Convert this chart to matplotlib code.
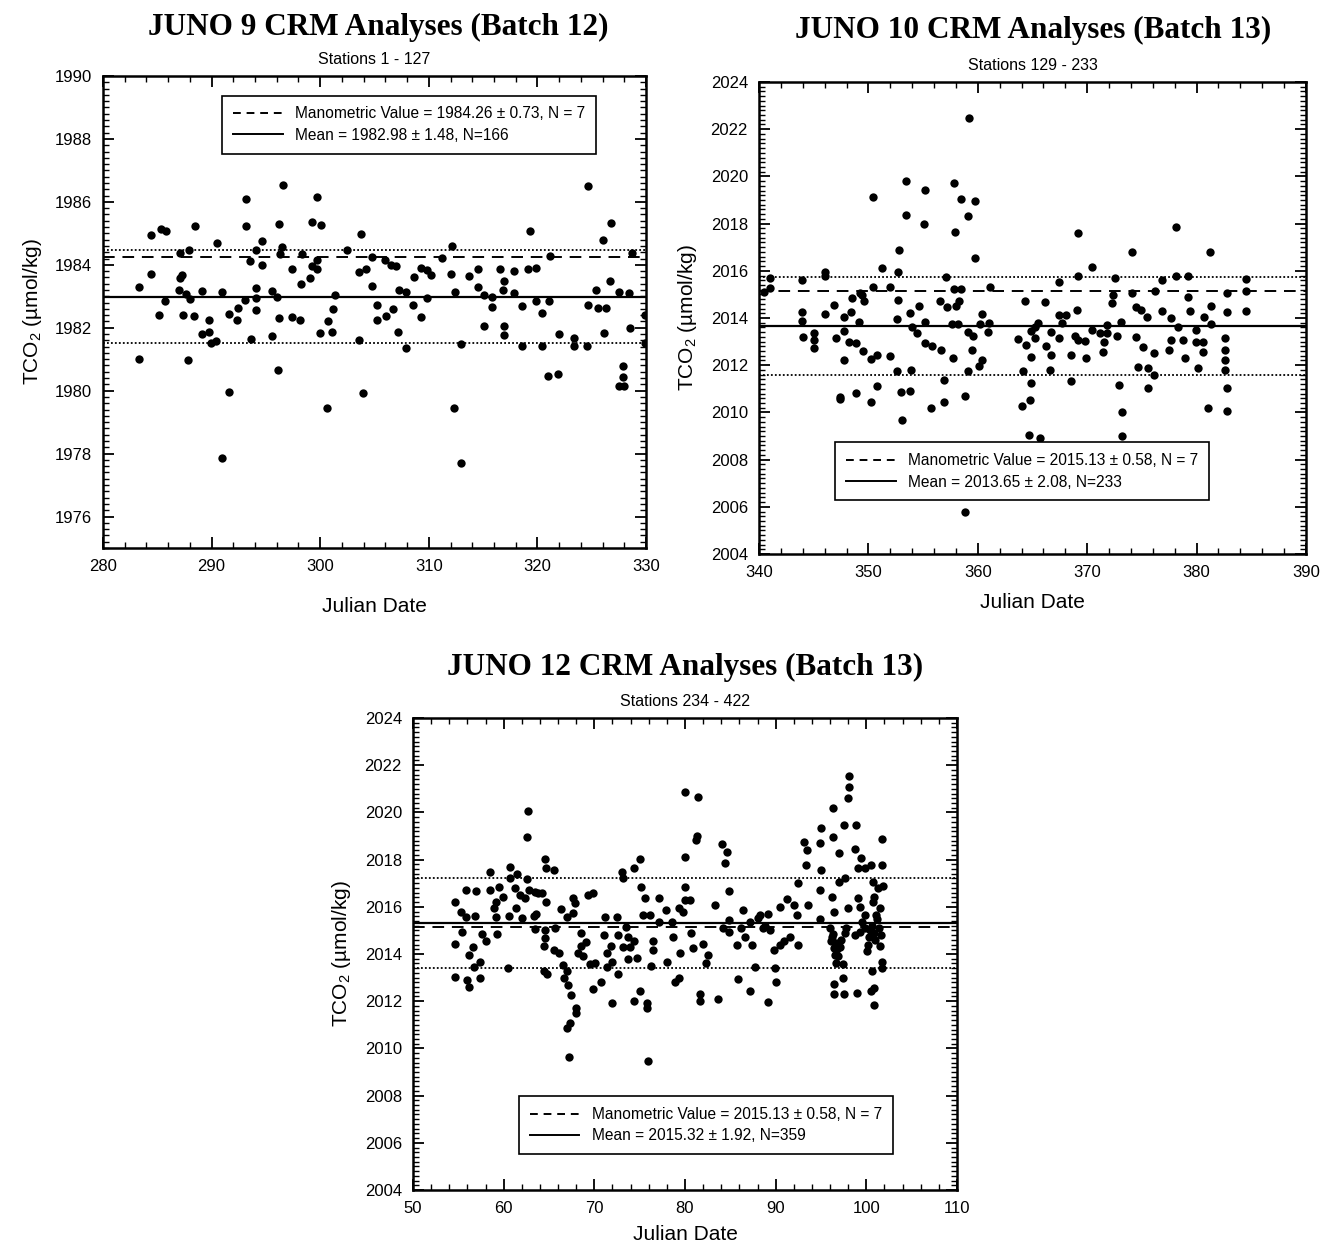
import matplotlib
matplotlib.use("Agg")
import matplotlib.pyplot as plt
from matplotlib.ticker import MultipleLocator
from matplotlib.lines import Line2D

plt.rcParams['font.family'] = ['Liberation Sans', 'DejaVu Sans']
plt.rcParams['mathtext.fontset'] = 'custom'
plt.rcParams['mathtext.rm'] = 'Liberation Sans'
plt.rcParams['mathtext.it'] = 'Liberation Sans:italic'

# ---- JUNO 9 (Batch 12), stations 1 - 127 ----
jd_j9 = [283.3, 284.4, 284.4, 285.3, 285.8, 285.7, 285.2, 283.3, 287.1, 287.1,
         287.3, 287.0, 287.6, 288.0, 287.4, 288.4, 287.9, 288.5, 287.8, 289.1,
         289.8, 289.8, 289.1, 289.9, 290.4, 290.5, 291.0, 291.6, 292.3, 292.4,
         291.0, 291.6, 293.2, 293.2, 293.1, 293.5, 293.6, 294.1, 294.6, 294.6,
         294.1, 294.1, 294.1, 295.6, 296.0, 295.6, 296.1, 296.2, 296.2, 296.6,
         296.5, 296.3, 297.4, 297.4, 298.1, 298.2, 298.3, 299.1, 299.2, 299.7,
         300.1, 299.2, 299.7, 299.7, 300.0, 300.6, 301.1, 300.7, 301.2, 301.4,
         302.5, 303.8, 303.6, 304.2, 303.6, 303.9, 304.8, 304.8, 305.2, 305.2,
         306.0, 306.5, 307.0, 306.1, 306.7, 307.3, 307.9, 307.2, 307.9, 308.5,
         308.6, 309.3, 309.8, 310.2, 309.3, 309.8, 311.2, 312.1, 312.0, 312.4,
         313.0, 312.3, 313.0, 313.7, 314.5, 314.5, 315.1, 315.8, 315.1, 315.8,
         316.6, 316.9, 316.8, 317.8, 316.9, 316.9, 317.8, 318.6, 318.6, 319.1,
         319.9, 319.3, 319.9, 320.4, 320.4, 321.1, 321.2, 321.0, 321.9, 322.0,
         323.4, 323.4, 324.6, 324.7, 324.7, 325.4, 325.6, 326.7, 326.3, 326.8,
         327.5, 328.4, 328.7, 328.5, 327.9, 327.9, 327.5, 328.0, 329.9, 329.9,
         326.0, 326.1]
tco2_j9 = [1983.31, 1983.70, 1984.96, 1985.13, 1985.09, 1982.86, 1982.41, 1981.00, 1984.39, 1983.58,
           1983.68, 1983.21, 1983.08, 1982.91, 1982.41, 1982.38, 1984.48, 1985.22, 1980.96, 1983.17,
           1982.23, 1981.86, 1981.80, 1981.53, 1981.58, 1984.69, 1983.13, 1982.44, 1982.25, 1982.64,
           1977.87, 1979.97, 1986.09, 1985.22, 1982.89, 1984.11, 1981.64, 1984.48, 1984.77, 1983.98,
           1983.26, 1982.94, 1982.57, 1983.17, 1982.99, 1981.75, 1980.65, 1982.31, 1985.29, 1986.54,
           1984.58, 1984.34, 1983.86, 1982.35, 1982.25, 1983.39, 1984.34, 1983.57, 1985.36, 1986.17,
           1985.26, 1983.97, 1983.86, 1984.14, 1981.83, 1979.44, 1981.85, 1982.20, 1982.59, 1983.05,
           1984.48, 1984.97, 1983.76, 1983.88, 1981.60, 1979.91, 1983.33, 1984.26, 1982.73, 1982.25,
           1984.16, 1984.00, 1983.95, 1982.36, 1982.59, 1983.21, 1983.12, 1981.88, 1981.35, 1982.73,
           1983.61, 1983.91, 1983.84, 1983.68, 1982.34, 1982.94, 1984.21, 1984.60, 1983.71, 1983.12,
           1981.49, 1979.45, 1977.70, 1983.63, 1983.88, 1983.29, 1983.05, 1982.66, 1982.06, 1982.99,
           1983.86, 1983.50, 1983.21, 1983.79, 1982.04, 1981.78, 1983.10, 1982.68, 1981.41, 1983.86,
           1983.89, 1985.06, 1982.84, 1982.47, 1981.41, 1982.84, 1984.29, 1980.48, 1980.54, 1981.80,
           1981.66, 1981.41, 1981.43, 1986.51, 1982.73, 1983.19, 1982.63, 1983.50, 1982.63, 1985.34,
           1983.13, 1983.10, 1984.39, 1981.99, 1980.77, 1980.45, 1980.16, 1980.16, 1982.40, 1981.50,
           1984.80, 1981.83]

# ---- JUNO 10 (Batch 13), stations 129 - 233 ----
jd_j10 = [341.0, 341.0, 340.5, 343.9, 343.9, 343.9, 344.0, 345.0, 345.0, 345.0,
          346.0, 346.0, 346.0, 346.9, 347.0, 347.4, 347.4, 347.8, 347.8, 347.8,
          348.2, 348.4, 348.5, 348.9, 348.9, 349.1, 349.2, 349.4, 349.6, 349.5,
          350.2, 350.2, 350.4, 350.4, 350.8, 350.8, 351.2, 352.0, 352.0, 352.6,
          352.7, 352.7, 352.8, 352.6, 353.1, 353.0, 353.4, 353.4, 353.8, 353.9,
          353.8, 354.0, 354.4, 354.6, 355.2, 355.1, 355.2, 355.2, 355.8, 355.7,
          356.5, 356.6, 356.9, 356.9, 357.1, 357.2, 357.7, 357.8, 357.9, 357.8,
          358.0, 358.3, 358.5, 357.6, 358.2, 358.5, 358.8, 358.8, 359.1, 359.2,
          359.1, 359.1, 359.5, 359.6, 359.7, 359.7, 360.1, 360.4, 360.4, 360.2,
          360.9, 361.0, 361.1, 364.3, 363.7, 364.4, 364.1, 364.0, 364.8, 364.7,
          364.9, 364.9, 364.9, 365.2, 366.1, 365.7, 365.5, 365.2, 366.2, 366.6,
          366.7, 366.7, 367.4, 367.4, 367.4, 367.7, 368.1, 368.5, 368.5, 368.9,
          369.2, 369.1, 369.2, 369.2, 369.8, 369.9, 370.4, 370.4, 371.2, 371.4,
          371.5, 371.8, 371.8, 372.4, 372.3, 372.5, 372.7, 373.1, 372.9, 373.2,
          373.2, 374.1, 374.1, 374.5, 374.5, 374.6, 374.9, 375.1, 375.5, 375.6,
          375.6, 376.1, 376.1, 376.2, 376.8, 376.8, 377.5, 377.7, 377.7, 378.1,
          378.1, 378.3, 378.9, 378.8, 379.2, 379.2, 379.4, 379.9, 380.1, 379.9,
          380.6, 380.6, 380.7, 381.0, 381.2, 381.3, 381.3, 382.6, 382.6, 382.6,
          382.6, 382.8, 382.8, 382.8, 382.8, 384.5, 384.5, 384.5]
tco2_j10 = [2015.71, 2015.26, 2015.10, 2015.61, 2014.24, 2013.87, 2013.18, 2013.35, 2013.07, 2012.74,
            2015.96, 2015.76, 2014.17, 2014.55, 2013.14, 2010.67, 2010.57, 2014.04, 2013.45, 2012.22,
            2013.00, 2014.26, 2014.83, 2012.92, 2010.81, 2013.81, 2015.05, 2014.98, 2014.70, 2012.61,
            2012.27, 2010.43, 2015.33, 2019.14, 2012.44, 2011.11, 2016.13, 2015.32, 2012.39, 2013.94,
            2014.75, 2015.96, 2016.88, 2011.75, 2009.68, 2010.85, 2019.81, 2018.36, 2010.91, 2011.80,
            2014.23, 2013.60, 2013.35, 2014.52, 2019.41, 2018.00, 2013.84, 2012.93, 2012.83, 2010.17,
            2014.70, 2012.64, 2011.37, 2010.45, 2015.75, 2014.45, 2012.29, 2019.73, 2017.66, 2015.22,
            2014.52, 2014.70, 2015.22, 2013.75, 2013.75, 2019.03, 2010.68, 2005.79, 2018.33, 2022.46,
            2013.42, 2011.77, 2012.64, 2013.24, 2018.96, 2016.56, 2011.98, 2012.22, 2014.17, 2013.73,
            2013.42, 2013.80, 2015.32, 2014.72, 2013.10, 2012.86, 2011.77, 2010.27, 2010.52, 2009.04,
            2011.23, 2013.45, 2012.36, 2013.63, 2014.69, 2008.90, 2013.77, 2013.15, 2012.82, 2011.80,
            2012.45, 2013.42, 2014.13, 2015.51, 2013.15, 2013.77, 2014.13, 2012.45, 2011.33, 2013.22,
            2017.59, 2014.33, 2015.76, 2013.08, 2013.01, 2012.31, 2016.15, 2013.49, 2013.35, 2012.57,
            2012.99, 2013.70, 2013.35, 2014.97, 2014.65, 2015.69, 2013.22, 2013.84, 2011.16, 2010.03,
            2009.02, 2016.81, 2015.05, 2013.18, 2014.46, 2011.94, 2014.32, 2012.78, 2014.06, 2011.87,
            2011.02, 2012.50, 2011.58, 2015.15, 2014.29, 2015.61, 2012.64, 2013.08, 2013.99, 2017.87,
            2015.76, 2013.63, 2012.31, 2013.08, 2015.76, 2014.91, 2014.28, 2013.49, 2011.87, 2012.99,
            2012.99, 2012.57, 2014.06, 2010.17, 2016.81, 2014.49, 2013.75, 2013.15, 2012.65, 2012.22,
            2011.80, 2011.02, 2010.06, 2015.05, 2014.26, 2015.66, 2015.15, 2014.30]

# ---- JUNO 12 (Batch 13), stations 234 - 422 ----
jd_j12 = [54.6, 54.6, 54.6, 55.3, 55.4, 55.9, 55.9, 56.9, 56.8, 56.2,
          56.6, 56.7, 56.0, 56.2, 57.4, 57.4, 57.6, 58.1, 58.5, 58.5,
          58.9, 59.1, 59.3, 59.2, 59.5, 59.9, 60.5, 60.6, 60.7, 60.7,
          61.2, 61.5, 61.4, 61.8, 62.0, 62.4, 62.6, 62.7, 62.6, 62.8,
          63.5, 63.3, 63.5, 63.8, 63.6, 64.2, 64.6, 64.7, 65.5, 64.7,
          64.6, 64.6, 64.4, 64.4, 64.8, 65.5, 65.7, 66.1, 66.3, 66.5,
          66.6, 67.0, 67.1, 67.0, 67.6, 67.7, 67.9, 67.4, 68.0, 68.0,
          67.3, 67.0, 67.2, 68.5, 68.5, 68.2, 68.8, 69.1, 69.3, 69.8,
          69.5, 70.1, 69.9, 70.7, 71.2, 71.1, 71.4, 71.4, 71.9, 71.8,
          71.9, 72.5, 72.6, 72.6, 73.2, 73.1, 73.2, 73.5, 73.7, 73.9,
          73.7, 74.4, 74.4, 74.7, 74.4, 75.0, 75.1, 75.0, 75.4, 75.6,
          75.8, 75.8, 75.9, 76.1, 76.5, 76.5, 76.3, 77.1, 77.1, 77.9,
          78.0, 78.7, 78.6, 78.9, 79.3, 79.4, 79.3, 80.0, 80.0, 80.0,
          80.0, 79.8, 81.4, 81.2, 81.3, 80.5, 83.3, 84.9, 84.1, 84.6,
          84.4, 80.7, 80.9, 82.0, 82.5, 82.3, 81.7, 81.7, 83.6, 84.2,
          84.8, 84.9, 85.7, 85.8, 86.2, 86.4, 86.6, 87.2, 87.2, 87.4,
          87.7, 88.0, 88.3, 88.6, 88.8, 89.1, 89.2, 89.4, 89.9, 90.0,
          89.8, 90.5, 90.5, 90.9, 91.3, 91.6, 92.0, 92.3, 92.5, 92.5,
          93.1, 93.4, 93.6, 93.5, 95.0, 94.9, 95.0, 94.9, 94.9, 96.3,
          96.3, 96.2, 96.4, 96.0, 96.2, 96.4, 96.5, 96.7, 97.4, 97.4,
          96.4, 96.4, 97.5, 97.0, 97.0, 97.7, 97.5, 98.1, 98.1, 98.0,
          98.9, 98.7, 99.4, 99.1, 98.0, 97.8, 97.6, 98.7, 99.0, 99.1,
          99.3, 99.5, 99.3, 99.9, 100.5, 100.7, 100.9, 101.1, 101.3, 101.5,
          101.7, 101.7, 100.1, 100.2, 100.6, 100.8, 100.9, 100.5, 101.5, 101.7,
          101.7, 101.6, 99.9, 99.9, 96.1, 96.6, 96.8, 97.2, 96.3, 96.9,
          97.1, 100.3, 100.6, 100.9, 101.2, 100.4, 101.0, 101.4, 100.7, 101.8]
tco2_j12 = [2016.19, 2014.41, 2013.04, 2015.76, 2014.92, 2015.58, 2016.71, 2016.68, 2015.63, 2013.96,
            2014.31, 2013.46, 2012.89, 2012.61, 2013.67, 2012.97, 2014.85, 2014.54, 2017.49, 2016.71,
            2015.93, 2016.22, 2014.85, 2015.58, 2016.85, 2016.43, 2013.39, 2015.63, 2017.67, 2017.24,
            2016.78, 2017.38, 2015.93, 2016.50, 2015.51, 2016.36, 2017.16, 2020.06, 2018.96, 2016.71,
            2016.64, 2015.63, 2015.06, 2016.57, 2015.70, 2016.57, 2018.03, 2017.66, 2017.56, 2016.22,
            2015.02, 2014.67, 2014.36, 2013.30, 2013.14, 2014.15, 2015.09, 2014.05, 2015.90, 2013.53,
            2012.97, 2013.30, 2012.68, 2015.58, 2015.72, 2016.39, 2016.15, 2012.26, 2011.70, 2011.49,
            2011.07, 2010.86, 2009.65, 2014.88, 2014.36, 2014.05, 2013.90, 2014.50, 2016.50, 2016.57,
            2013.57, 2013.61, 2012.51, 2012.80, 2015.55, 2014.81, 2014.05, 2013.46, 2011.92, 2014.36,
            2013.67, 2015.55, 2014.81, 2013.16, 2014.29, 2017.49, 2017.21, 2015.16, 2014.74, 2014.29,
            2013.78, 2017.63, 2014.57, 2013.85, 2012.00, 2018.03, 2016.85, 2012.44, 2015.65, 2016.36,
            2011.92, 2011.71, 2009.47, 2015.65, 2014.57, 2014.15, 2013.50, 2016.39, 2015.37, 2015.88,
            2013.67, 2014.74, 2015.37, 2012.82, 2012.97, 2014.05, 2015.93, 2020.85, 2018.09, 2016.85,
            2016.29, 2015.80, 2020.67, 2018.83, 2019.00, 2016.30, 2016.08, 2016.68, 2018.65, 2018.33,
            2017.84, 2014.88, 2014.25, 2014.43, 2013.97, 2013.63, 2012.29, 2012.01, 2012.08, 2015.09,
            2014.95, 2015.44, 2014.39, 2012.92, 2015.09, 2015.88, 2014.74, 2012.43, 2015.37, 2014.39,
            2013.46, 2015.51, 2015.65, 2015.09, 2015.20, 2011.96, 2015.68, 2015.02, 2013.40, 2012.83,
            2014.19, 2016.00, 2014.39, 2014.53, 2016.32, 2014.74, 2016.08, 2015.65, 2014.39, 2017.02,
            2018.76, 2017.77, 2016.08, 2018.40, 2019.32, 2018.69, 2017.56, 2016.71, 2015.48, 2020.17,
            2018.96, 2016.43, 2015.79, 2015.09, 2014.74, 2014.25, 2013.97, 2013.63, 2013.56, 2013.00,
            2012.71, 2012.29, 2012.29, 2017.06, 2018.29, 2017.21, 2019.46, 2021.09, 2021.55, 2020.62,
            2019.46, 2018.47, 2018.05, 2017.63, 2015.93, 2015.09, 2014.88, 2014.81, 2012.33, 2016.36,
            2016.01, 2015.37, 2014.95, 2017.63, 2017.77, 2017.06, 2016.43, 2015.65, 2016.78, 2015.93,
            2018.89, 2017.77, 2014.11, 2014.39, 2013.26, 2012.57, 2011.86, 2012.43, 2014.32, 2013.68,
            2013.40, 2014.81, 2015.65, 2015.09, 2014.55, 2014.45, 2014.20, 2014.60, 2014.85, 2013.90,
            2014.30, 2014.70, 2015.20, 2014.90, 2015.50, 2015.00, 2014.60, 2015.10, 2016.20, 2016.90]

# summary statistics printed in the legends
stats_j9 = (1984.26, 0.73, 7, 1982.98, 1.48, 166)
stats_j10 = (2015.13, 0.58, 7, 2013.65, 2.08, 233)
stats_j12 = (2015.13, 0.58, 7, 2015.32, 1.92, 359)

W, H = 1323, 1246
fig = plt.figure(figsize=(W / 100, H / 100), dpi=100)
fig.patch.set_facecolor('white')


def px_rect(left, top, right, bottom):
    return [left / W, 1 - bottom / H, (right - left) / W, (bottom - top) / H]


def draw_panel(rect, title, title_xy, subtitle, jd, tco2, stats, xlim, ylim, leg_anchor, xlab_y):
    ax = fig.add_axes(px_rect(*rect))
    mano, mano_sd, mano_n, mean, sd, n = stats
    ax.scatter(jd, tco2, s=36, color='black', zorder=3, linewidths=0)
    ax.axhline(mano, color='black', ls=(0, (6, 4)), lw=1.4)
    ax.axhline(mean, color='black', ls='-', lw=1.6)
    ax.axhline(mean + sd, color='black', ls=(0, (1, 1.2)), lw=1.3)
    ax.axhline(mean - sd, color='black', ls=(0, (1, 1.2)), lw=1.3)
    ax.set_xlim(*xlim)
    ax.set_ylim(*ylim)
    ax.xaxis.set_major_locator(MultipleLocator(10))
    ax.xaxis.set_minor_locator(MultipleLocator(2))
    ax.yaxis.set_major_locator(MultipleLocator(2))
    ax.yaxis.set_minor_locator(MultipleLocator(0.2))
    ax.tick_params(which='major', direction='in', top=True, right=True, length=8, width=1.3,
                   labelsize=12, pad=8)
    ax.tick_params(which='minor', direction='in', top=True, right=True, length=4, width=1.0)
    for sp in ax.spines.values():
        sp.set_linewidth(1.8)
    ax.set_xlabel('Julian Date', fontsize=15, va='center')
    ax.xaxis.set_label_coords(0.5, -xlab_y / 472)
    ax.set_ylabel('TCO$_2$ (\u00b5mol/kg)', fontsize=15, labelpad=8)

    handles = [Line2D([], [], color='black', ls=(0, (4, 3)), lw=1.4),
               Line2D([], [], color='black', ls='-', lw=1.4)]
    labels = ['Manometric Value = %.2f \u00b1 %.2f, N = %d' % (mano, mano_sd, mano_n),
              'Mean = %.2f \u00b1 %.2f, N=%d' % (mean, sd, n)]
    leg = ax.legend(handles, labels, loc=leg_anchor[0], bbox_to_anchor=leg_anchor[1],
                    fontsize=11.2, frameon=True, fancybox=False, edgecolor='black',
                    borderpad=0.7, handlelength=3.2, labelspacing=0.4)
    leg.get_frame().set_linewidth(1.2)
    leg.get_frame().set_alpha(1)

    fig.text(title_xy[0] / W, 1 - title_xy[1] / H, title, ha='center', va='center',
             fontsize=22.5, fontweight='bold', family=['Liberation Serif', 'DejaVu Serif'])
    ax.text(0.5, 1.0 + 16 / 472, subtitle, transform=ax.transAxes, ha='center', va='center',
            fontsize=11.5)
    return ax


draw_panel((103, 76, 646, 548), 'JUNO 9 CRM Analyses (Batch 12)', (378, 27), 'Stations 1 - 127',
           jd_j9, tco2_j9, stats_j9, (280, 330), (1975, 1990), ('upper left', (0.205, 0.975)), 58)
draw_panel((759, 82, 1306, 554), 'JUNO 10 CRM Analyses (Batch 13)', (1033, 30), 'Stations 129 - 233',
           jd_j10, tco2_j10, stats_j10, (340, 390), (2004, 2024), ('lower left', (0.125, 0.097)), 48)
draw_panel((413, 718, 957, 1190), 'JUNO 12 CRM Analyses (Batch 13)', (685, 667), 'Stations 234 - 422',
           jd_j12, tco2_j12, stats_j12, (50, 110), (2004, 2024), ('lower left', (0.18, 0.059)), 45)

fig.savefig('out.png', dpi=100, facecolor='white')
